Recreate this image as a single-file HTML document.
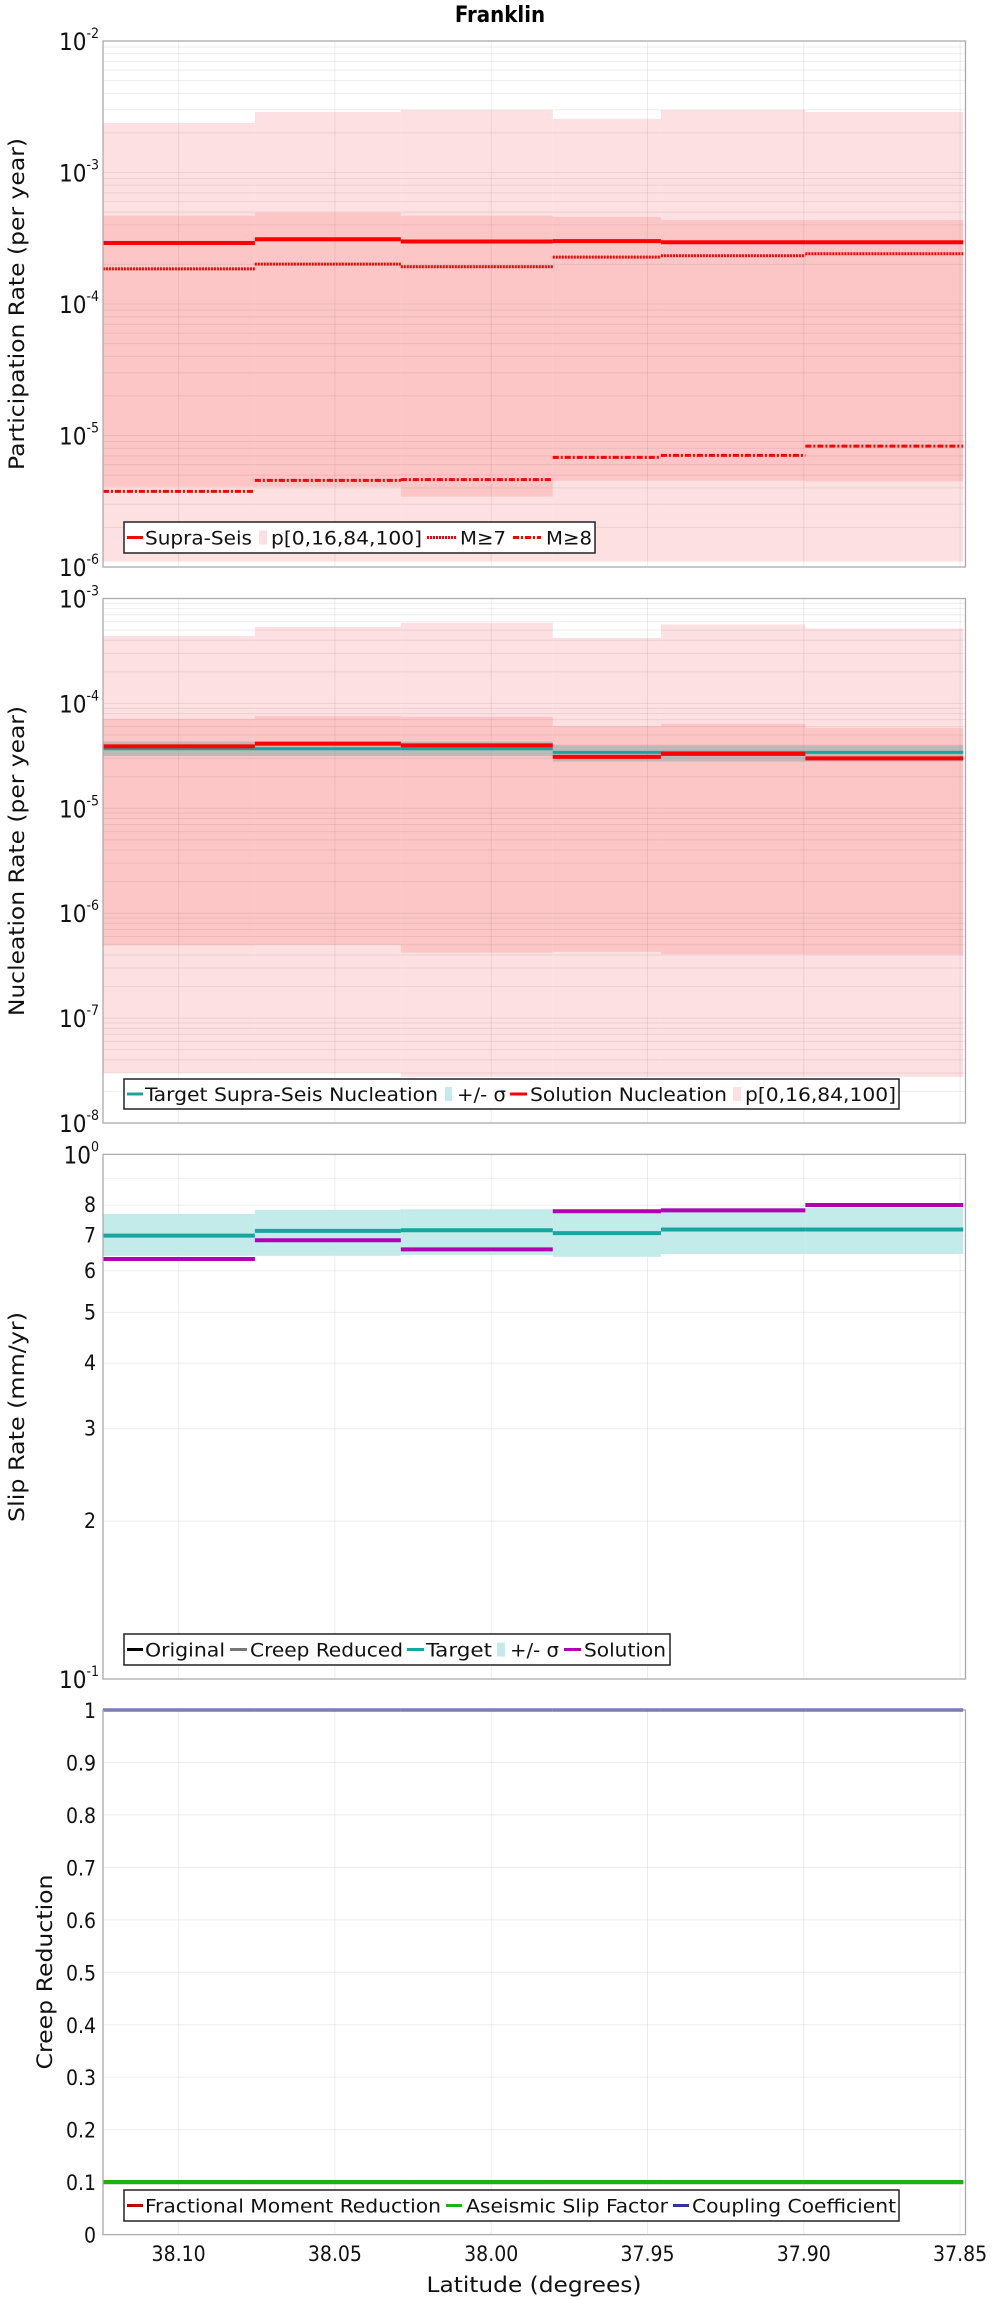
<!DOCTYPE html>
<html><head><meta charset="utf-8">
<style>
html,body{margin:0;padding:0;background:#fff;}
svg{display:block;}
.tk{font-family:"DejaVu Sans Condensed","Liberation Sans Narrow","Liberation Sans",sans-serif;font-size:21px;fill:#111;}
.lg{font-family:"DejaVu Sans Condensed","Liberation Sans Narrow","Liberation Sans",sans-serif;font-size:19px;fill:#111;}
.ax{font-family:"DejaVu Sans","Liberation Sans",sans-serif;font-size:21px;fill:#111;}
</style></head>
<body>
<svg id="chart" width="1000" height="2300" viewBox="0 0 1000 2300" xmlns="http://www.w3.org/2000/svg">
<text x="500" y="22" text-anchor="middle" style="font-family:'DejaVu Sans Condensed','Liberation Sans',sans-serif;font-weight:bold;font-size:22px;fill:#000">Franklin</text>
</svg>
<script>
// ---- shared x data ----
const binEdges = [38.1242, 38.0756, 38.0289, 37.9803, 37.9457, 37.8995, 37.849];
const xTicks = [38.10, 38.05, 38.00, 37.95, 37.90, 37.85];
const xTickLabels = ["38.10","38.05","38.00","37.95","37.90","37.85"];
// ---- panel 1: participation ----
const partP0 = [1.1e-6,1.1e-6,1.1e-6,1.1e-6,1.1e-6,1.1e-6];
const partP100 = [2.38e-3,2.88e-3,2.99e-3,2.55e-3,2.99e-3,2.88e-3];
const partP16 = [4.07e-6,4.07e-6,3.43e-6,4.53e-6,4.53e-6,4.48e-6];
const partP84 = [4.69e-4,4.94e-4,4.69e-4,4.59e-4,4.35e-4,4.35e-4];
const partSupra = [2.91e-4,3.11e-4,2.99e-4,3.01e-4,2.95e-4,2.95e-4];
const partM7 = [1.85e-4,2.01e-4,1.92e-4,2.27e-4,2.33e-4,2.41e-4];
const partM8 = [3.76e-6,4.56e-6,4.62e-6,6.82e-6,7.06e-6,8.3e-6];
// ---- panel 2: nucleation ----
const nucP0 = [3.0e-8,3.0e-8,2.75e-8,2.75e-8,2.75e-8,2.75e-8];
const nucP100 = [4.38e-4,5.36e-4,5.86e-4,4.2e-4,5.66e-4,5.18e-4];
const nucP16 = [4.94e-7,4.99e-7,4.2e-7,4.28e-7,4.07e-7,4.05e-7];
const nucP84 = [7.15e-5,7.57e-5,7.45e-5,6.08e-5,6.38e-5,5.85e-5];
const nucTarget = [3.7e-5,3.7e-5,3.7e-5,3.41e-5,3.41e-5,3.41e-5];
const nucSigLo = [3.15e-5,3.15e-5,3.15e-5,2.79e-5,2.79e-5,2.79e-5];
const nucSigHi = [4.33e-5,4.33e-5,4.33e-5,3.97e-5,3.97e-5,3.97e-5];
const nucSolution = [3.89e-5,4.14e-5,3.98e-5,3.09e-5,3.3e-5,2.99e-5];
// ---- panel 3: slip ----
const slipTarget = [7.00,7.15,7.17,7.08,7.19,7.19];
const slipSigLo = [6.41,6.41,6.43,6.38,6.46,6.46];
const slipSigHi = [7.70,7.84,7.86,7.86,7.91,7.91];
const slipSolution = [6.32,6.86,6.59,7.79,7.82,8.01];
const slipTickVals = [2,3,4,5,6,7,8];
// ---- panel 4: creep ----
const creepFrac = [0.1,0.1,0.1,0.1,0.1,0.1];
const creepAseis = [0.1,0.1,0.1,0.1,0.1,0.1];
const creepCoupling = [1,1,1,1,1,1];
const creepTicks = [0,0.1,0.2,0.3,0.4,0.5,0.6,0.7,0.8,0.9,1];
const creepTickLabels = ["0","0.1","0.2","0.3","0.4","0.5","0.6","0.7","0.8","0.9","1"];

const svg = document.getElementById('chart');
const NS = 'http://www.w3.org/2000/svg';
const PL = 103, PR = 965.5;
function xS(lat){ return 178.6 + (38.10 - lat) / 0.05 * 156.3; }
function mk(tag, attrs, parent){ const e = document.createElementNS(NS, tag); for (const k in attrs) e.setAttribute(k, attrs[k]); (parent||svg).appendChild(e); return e; }
function logScale(top, bot, dTop, dBot){ return v => top + (dTop - Math.log10(v)) / (dTop - dBot) * (bot - top); }

function frame(name){
  const g = mk('g', {});
  
  
  return g;
}
function grid(g, top, bot, ys){
  ys.forEach(y => { const l = mk('line', {x1:PL, x2:PR, y1:y, y2:y, stroke:'rgba(0,0,0,0.07)', 'stroke-width':1}, g);
    
     });
  xTicks.forEach(t => { const l = mk('line', {x1:xS(t), x2:xS(t), y1:top, y2:bot, stroke:'rgba(0,0,0,0.07)', 'stroke-width':1}, g);
    
     });
}
function border(g, top, bot){
  const r = mk('rect', {x:PL, y:top, width:PR-PL, height:bot-top, fill:'none', stroke:'#aaa', 'stroke-width':1.3}, g);
  
  
}
function bands(g, lo, hi, ys, fill, name){
  for (let i = 0; i < lo.length; i++){
    const x0 = xS(binEdges[i]), x1 = xS(binEdges[i+1]);
    const a = ys(hi[i]), b = ys(lo[i]);
    const r = mk('rect', {x:x0, y:a, width:x1-x0, height:b-a, fill:fill}, g);
    
    
  }
}
function steps(g, vals, ys, color, w, dash, name){
  for (let i = 0; i < vals.length; i++){
    const x0 = xS(binEdges[i]), x1 = xS(binEdges[i+1]);
    const y = ys(vals[i]);
    const l = mk('line', {x1:x0, x2:x1, y1:y, y2:y, stroke:color, 'stroke-width':w}, g);
    if (dash) l.setAttribute('stroke-dasharray', dash);
    
    
  }
}
function powLabel(g, y, exp){
  const t = mk('text', {x:99, y:y+9, 'text-anchor':'end', class:'tk'}, g);
  
  
  const s1 = mk('tspan', {'font-size':'24px'}, t); s1.textContent = '10';
  const s2 = mk('tspan', {dy:'-12', 'font-size':'14px'}, t); s2.textContent = String(exp);
}
function yTitle(g, x, y, txt, len){
  const t = mk('text', {x:x, y:y, 'text-anchor':'middle', class:'ax', transform:`rotate(-90 ${x} ${y})`, textLength:len, lengthAdjust:'spacingAndGlyphs'}, g);
  
  
  t.textContent = txt;
}
function legend(g, x0, x1, y0, y1, items){
  const box = mk('rect', {x:x0, y:y0, width:x1-x0, height:y1-y0, fill:'#fff', stroke:'#222', 'stroke-width':1.5}, g);
  
  
  const cy = (y0 + y1) / 2;
  items.forEach(it => {
    if (it.kind === 'line'){
      const l = mk('line', {x1:it.sx, x2:it.sx2, y1:cy, y2:cy, stroke:it.color, 'stroke-width':3}, g);
      if (it.dash) l.setAttribute('stroke-dasharray', it.dash);
      
      
    } else {
      const r = mk('rect', {x:it.sx, y:cy-7, width:it.sx2-it.sx, height:14, fill:it.color}, g);
      
      
    }
    const t = mk('text', {x:it.tx, y:cy+7, class:'lg', textLength:it.tl, lengthAdjust:'spacingAndGlyphs'}, g);
    
    
    t.textContent = it.label;
  });
}
function logGridYs(ys, dMin, dMax){
  const out = [];
  for (let d = dMin; d < dMax; d++) for (let m = 1; m <= 9; m++) out.push(ys(m * Math.pow(10, d)));
  return out;
}

// ===== Panel 1 =====
(function(){
  const top = 41, bot = 567;
  const ys = logScale(top, bot, -2, -6);
  const g = frame('participation-panel');
  bands(g, partP0, partP100, ys, '#fde0e1', 'part-p0-100');
  bands(g, partP16, partP84, ys, '#fcc6c7', 'part-p16-84');
  grid(g, top, bot, logGridYs(ys, -6, -2));
  steps(g, partSupra, ys, '#f00', 4, null, 'part-supra');
  steps(g, partM7, ys, '#f00', 3, '2,1', 'part-m7');
  steps(g, partM8, ys, '#f00', 3, '6,2,2,2', 'part-m8');
  border(g, top, bot);
  [-2,-3,-4,-5,-6].forEach(e => powLabel(g, ys(Math.pow(10, e)), e));
  yTitle(g, 24, 304, 'Participation Rate (per year)', 332);
  legend(g, 124, 595, 522, 553, [
    {kind:'line', sx:127, sx2:143, color:'#f00', tx:145, tl:107, label:'Supra-Seis'},
    {kind:'rect', sx:259, sx2:267, color:'#fde0e1', tx:271, tl:151, label:'p[0,16,84,100]'},
    {kind:'line', sx:427, sx2:456, color:'#f00', dash:'2,1', tx:460, tl:46, label:'M≥7'},
    {kind:'line', sx:513, sx2:541, color:'#f00', dash:'6,2,2,2', tx:546, tl:46, label:'M≥8'}
  ]);
})();

// ===== Panel 2 =====
(function(){
  const top = 598.5, bot = 1123;
  const ys = logScale(top, bot, -3, -8);
  const g = frame('nucleation-panel');
  bands(g, nucP0, nucP100, ys, '#fde0e1', 'nuc-p0-100');
  bands(g, nucP16, nucP84, ys, '#fcc6c7', 'nuc-p16-84');
  grid(g, top, bot, logGridYs(ys, -8, -3));
  bands(g, nucSigLo, nucSigHi, ys, 'rgba(120,165,165,0.45)', 'nuc-sigma');
  steps(g, nucTarget, ys, '#17a5a0', 3, null, 'nuc-target');
  steps(g, nucSolution, ys, '#f00', 4, null, 'nuc-solution');
  border(g, top, bot);
  [-3,-4,-5,-6,-7,-8].forEach(e => powLabel(g, ys(Math.pow(10, e)), e));
  yTitle(g, 24, 861, 'Nucleation Rate (per year)', 310);
  legend(g, 124, 899, 1079, 1109, [
    {kind:'line', sx:127, sx2:143, color:'#17a5a0', tx:145, tl:293, label:'Target Supra-Seis Nucleation'},
    {kind:'rect', sx:445, sx2:452, color:'#c2ebea', tx:457, tl:49, label:'+/- σ'},
    {kind:'line', sx:510, sx2:527, color:'#f00', tx:530, tl:197, label:'Solution Nucleation'},
    {kind:'rect', sx:733, sx2:741, color:'#fde0e1', tx:745, tl:151, label:'p[0,16,84,100]'}
  ]);
})();

// ===== Panel 3 =====
(function(){
  const top = 1154.4, bot = 1679;
  const ys = logScale(top, bot, 1, 0);
  const g = frame('slip-rate-panel');
  grid(g, top, bot, [2,3,4,5,6,7,8,9].map(ys));
  bands(g, slipSigLo, slipSigHi, ys, '#c2ebea', 'slip-sigma');
  steps(g, slipTarget, ys, '#17a5a0', 4, null, 'slip-target');
  steps(g, slipSolution, ys, '#b400b4', 4, null, 'slip-solution');
  border(g, top, bot);
  powLabel(g, top, 0);
  powLabel(g, bot, -1);
  slipTickVals.forEach(v => {
    const t = mk('text', {x:96, y:ys(v)+7, 'text-anchor':'end', class:'tk', 'font-size':'19px'}, g);
    
    
    t.textContent = String(v);
  });
  yTitle(g, 24, 1417, 'Slip Rate (mm/yr)', 210);
  legend(g, 124, 670, 1634, 1665, [
    {kind:'line', sx:127, sx2:143, color:'#000', tx:145, tl:80, label:'Original'},
    {kind:'line', sx:230, sx2:247, color:'#777', tx:250, tl:153, label:'Creep Reduced'},
    {kind:'line', sx:407, sx2:424, color:'#17a5a0', tx:426, tl:66, label:'Target'},
    {kind:'rect', sx:497, sx2:505, color:'#c2ebea', tx:510, tl:49, label:'+/- σ'},
    {kind:'line', sx:564, sx2:581, color:'#b400b4', tx:584, tl:82, label:'Solution'}
  ]);
})();

// ===== Panel 4 =====
(function(){
  const top = 1710, bot = 2234.6;
  const ys = v => bot - v * (bot - top);
  const g = frame('creep-panel');
  grid(g, top, bot, creepTicks.map(ys));
  steps(g, creepFrac, ys, '#c00000', 4, null, 'creep-fractional');
  steps(g, creepAseis, ys, '#10b810', 4, null, 'creep-aseismic');
  steps(g, creepCoupling, ys, '#3030b0', 3, null, 'creep-coupling');
  border(g, top, bot);
  creepTicks.forEach((v, i) => {
    const t = mk('text', {x:96, y:ys(v)+8, 'text-anchor':'end', class:'tk'}, g);
    
    
    t.textContent = creepTickLabels[i];
  });
  xTicks.forEach((v, i) => {
    const t = mk('text', {x:xS(v), y:2261, 'text-anchor':'middle', class:'tk'}, g);
    
    
    t.textContent = xTickLabels[i];
  });
  const xt = mk('text', {x:534, y:2292, 'text-anchor':'middle', class:'tk', 'font-size':'23px', textLength:215, lengthAdjust:'spacingAndGlyphs'}, g);
  
  
  xt.textContent = 'Latitude (degrees)';
  yTitle(g, 52, 1972, 'Creep Reduction', 195);
  legend(g, 124, 899, 2190, 2221, [
    {kind:'line', sx:127, sx2:143, color:'#c00000', tx:145, tl:296, label:'Fractional Moment Reduction'},
    {kind:'line', sx:446, sx2:462, color:'#10b810', tx:466, tl:202, label:'Aseismic Slip Factor'},
    {kind:'line', sx:673, sx2:689, color:'#3030b0', tx:692, tl:204, label:'Coupling Coefficient'}
  ]);
})();
</script>
</body></html>
